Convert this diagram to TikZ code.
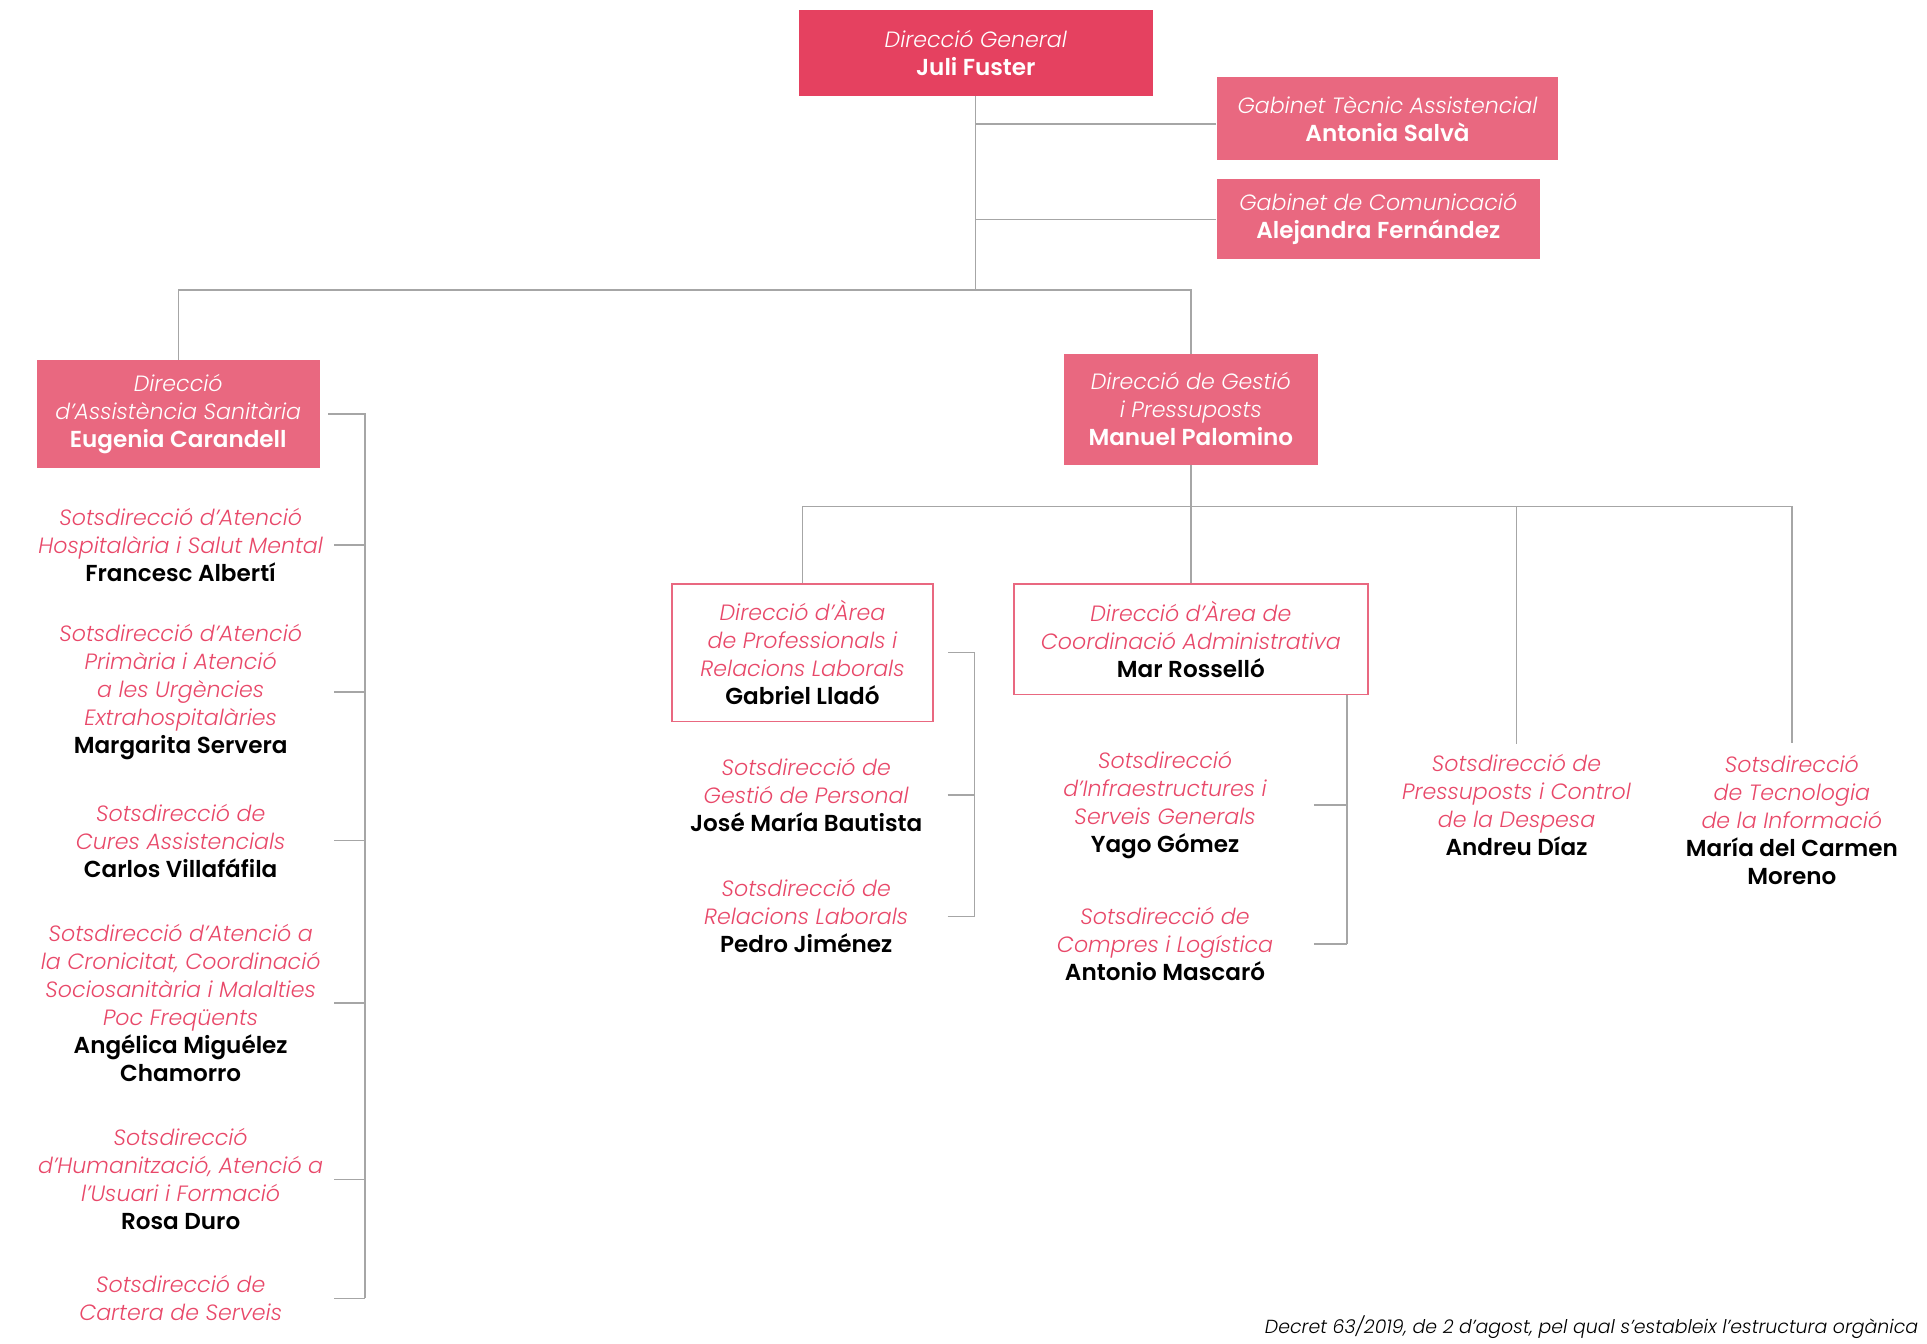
\documentclass[tikz,border=0pt]{standalone}
\usepackage{fontspec}
\setmainfont{Poppins}[ItalicFont={Poppins Light Italic},BoldFont={Poppins SemiBold}]
\usetikzlibrary{positioning}
\definecolor{rojo}{RGB}{229,65,96}
\definecolor{rosa}{RGB}{233,104,128}
\definecolor{rosatxt}{RGB}{232,72,105}
\definecolor{gris}{RGB}{166,166,166}
\newcommand{\Nom}[1]{{\fontsize{18.8}{22.8}\selectfont\upshape\bfseries #1}}
\newcommand{\NomN}[1]{{\color{black}\fontsize{18.8}{22.8}\selectfont\upshape\bfseries #1}}

\begin{document}
\begin{tikzpicture}[x=1pt,y=-1pt,% List of styles applied to all
      every node/.style={
        align=center,     % so that "\\" breaks the lines
        font=\fontsize{18}{22.8}\selectfont\itshape
      },
      caixa/.style={rectangle,fill=rosa,text=white,inner sep=0pt},
      caixa0/.style={caixa,fill=rojo},
      caixab/.style={rectangle,draw=rosa,line width=1.3pt,fill=white,text=rosatxt,inner sep=0pt},
      item/.style={text=rosatxt,inner sep=0pt},
      link/.style={draw=gris,line width=1.1pt}
    ]
    \useasboundingbox (0,0) rectangle (1568,1093);
    % top level
    \node[caixa0,minimum width=288pt,minimum height=70pt](R1) at (794,43) {Direcció General\\ \Nom{Juli Fuster}};
    \node[caixa,minimum width=278pt,minimum height=67pt](R2) at (1129,96.5) {Gabinet Tècnic Assistencial\\ \Nom{Antonia Salvà}};
    \node[caixa,minimum width=263pt,minimum height=65pt](R3) at (1121.5,178.5) {Gabinet de Comunicació\\ \Nom{Alejandra Fernández}};
    \node[caixa,minimum width=230pt,minimum height=88pt](R4) at (145,337) {Direcció\\ d'Assistència Sanitària\\ \Nom{Eugenia Carandell}};
    \node[caixa,minimum width=207pt,minimum height=90pt](R5) at (969,333) {Direcció de Gestió\\ i Pressuposts\\ \Nom{Manuel Palomino}};
    \node[caixab,minimum width=212pt,minimum height=112pt](R6) at (653,531) {Direcció d'Àrea\\ de Professionals i\\ Relacions Laborals\\ \NomN{Gabriel Lladó}};
    \node[caixab,minimum width=288pt,minimum height=90pt](R7) at (969,520) {Direcció d'Àrea de\\ Coordinació Administrativa\\ \NomN{Mar Rosselló}};
    % left column
    \node[item](S1) at (147,443.5) {Sotsdirecció d'Atenció\\ Hospitalària i Salut Mental\\ \NomN{Francesc Albertí}};
    \node[item](S2) at (147,563) {Sotsdirecció d'Atenció\\ Primària i Atenció\\ a les Urgències\\ Extrahospitalàries\\ \NomN{Margarita Servera}};
    \node[item](S3) at (147,684) {Sotsdirecció de\\ Cures Assistencials\\ \NomN{Carlos Villafáfila}};
    \node[item](S4) at (147,816) {Sotsdirecció d'Atenció a\\ la Cronicitat, Coordinació\\ Sociosanitària i Malalties\\ Poc Freqüents\\ \NomN{Angélica Miguélez}\\ \NomN{Chamorro}};
    \node[item](S5) at (147,959.5) {Sotsdirecció\\ d'Humanització, Atenció a\\ l'Usuari i Formació\\ \NomN{Rosa Duro}};
    \node[item](S6) at (147,1056.5) {Sotsdirecció de\\ Cartera de Serveis};
    % right side
    \node[item](M1) at (656,647) {Sotsdirecció de\\ Gestió de Personal\\ \NomN{José María Bautista}};
    \node[item](M2) at (656,745.5) {Sotsdirecció de\\ Relacions Laborals\\ \NomN{Pedro Jiménez}};
    \node[item](N1) at (948,655) {Sotsdirecció\\ d'Infraestructures i\\ Serveis Generals\\ \NomN{Yago Gómez}};
    \node[item](N2) at (948,768) {Sotsdirecció de\\ Compres i Logística\\ \NomN{Antonio Mascaró}};
    \node[item](P1) at (1234,655) {Sotsdirecció de\\ Pressuposts i Control\\ de la Despesa\\ \NomN{Andreu Díaz}};
    \node[item](P2) at (1458,667.5) {Sotsdirecció\\ de Tecnologia\\ de la Informació\\ \NomN{María del Carmen}\\ \NomN{Moreno}};
    \node[anchor=east,inner sep=0pt,font=\fontsize{15.4}{18}\selectfont\itshape](nota) at (1561,1080) {Decret 63/2019, de 2 d'agost, pel qual s'estableix l'estructura orgànica};
    % connectors
    \coordinate (t1) at (793,236);
    \coordinate (t2) at (969,412);
    \coordinate (sp1) at (297,338);
    \coordinate (tk1) at (272,0);
    \coordinate (sp2) at (793,0);
    \coordinate (tk2) at (771,0);
    \coordinate (sp3) at (1096,0);
    \coordinate (tk3) at (1069,0);
    \draw[link] (R1.south) -- (R1.south |- t1);
    \draw[link] ([yshift=-4.5pt]R2.west) -- ([yshift=-4.5pt]R2.west -| R1.south);
    \draw[link] (R3.west) -- (R3.west -| R1.south);
    \draw[link] (R4.north) |- (t1) -| (R5.north);
    \draw[link] (R5.south) -- (R7.north);
    \draw[link,shorten >=10pt] (R6.north) |- (P2.north |- t2) -- (P2.north);
    \draw[link,shorten >=8pt] (P1.north |- t2) -- (P1.north);
    \draw[link] ([xshift=7pt]R4.east) -| (sp1 |- S6);
    \draw[link] ([xshift=12pt]R6.east) -| (sp2 |- M2);
    \draw[link] (R7.south -| sp3) -- (sp3 |- N2);
    \foreach \s in {S1,S2,S3,S4,S5,S6}
      \draw[link] (\s -| tk1) -- (\s -| sp1);
    \foreach \s in {M1,M2}
      \draw[link] (\s -| tk2) -- (\s -| sp2);
    \foreach \s in {N1,N2}
      \draw[link] (\s -| tk3) -- (\s -| sp3);
  \end{tikzpicture}
\end{document}
